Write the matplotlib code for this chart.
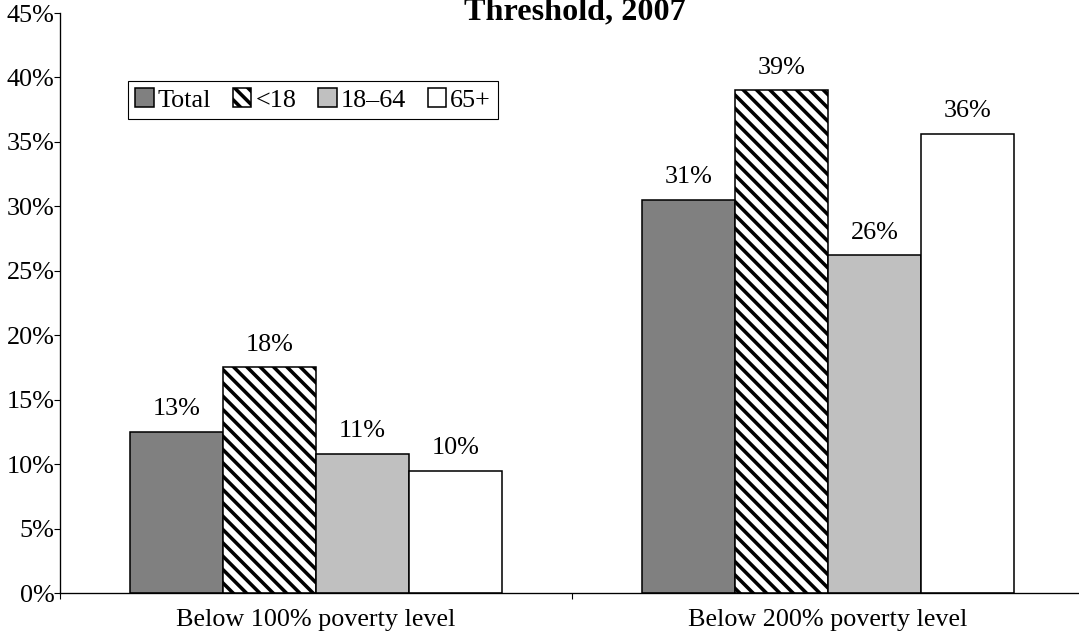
import math

import matplotlib
matplotlib.use("Agg")
import matplotlib.pyplot as plt
import numpy as np

categories = ["Below 100% poverty level", "Below 200% poverty level"]
groups = ["Total", "<18", "18\u201364", "65+"]
values = {
    "Total": [12.5, 30.5],
    "<18": [17.5, 39.0],
    "18\u201364": [10.8, 26.2],
    "65+": [9.5, 35.6],
}
y_ticks = [0, 5, 10, 15, 20, 25, 30, 35, 40, 45]

fills = {"Total": "#808080", "<18": "white", "18\u201364": "#c0c0c0", "65+": "white"}
hatches = {"Total": None, "<18": "\\\\", "18\u201364": None, "65+": None}

plt.rcParams["font.family"] = ["Liberation Serif", "DejaVu Serif"]
plt.rcParams["hatch.linewidth"] = 3.2
plt.rcParams["hatch.color"] = "black"

W, H, DPI = 1079, 640, 80
fs = 23.5
fig = plt.figure(figsize=(W / DPI, H / DPI), dpi=DPI)
ax = fig.add_axes([60 / W, (H - 593) / H, (1084 - 60) / W, (593 - 13) / H])

x = np.arange(len(categories))
bw = 0.182
for i, g in enumerate(groups):
    pos = x + (i - 1.5) * bw
    bars = ax.bar(pos, values[g], bw, color=fills[g], edgecolor="black",
                  linewidth=1.4, hatch=hatches[g], label=g, zorder=2)
    for xp, v in zip(pos, values[g]):
        lbl = f"{math.floor(v + 0.5)}%"
        ax.annotate(lbl, (xp, v), xytext=(0, 15), textcoords="offset points",
                    ha="center", va="baseline", fontsize=fs)

ax.set_xlim(-0.5, 1.5)
ax.set_ylim(0, 45)
ax.set_yticks(y_ticks)
ax.set_yticklabels([f"{t}%" for t in y_ticks])
ax.set_xticks(x)
ax.set_xticklabels(categories)
ax.set_xticks([-0.5, 0.5, 1.5], minor=True)
ax.tick_params(axis="x", which="major", length=0, pad=14, labelsize=fs)
ax.tick_params(axis="x", which="minor", length=5, width=1, direction="out")
ax.tick_params(axis="y", length=5, width=1, direction="out", pad=0, labelsize=fs)
for s in ["top", "right"]:
    ax.spines[s].set_visible(False)
for s in ["left", "bottom"]:
    ax.spines[s].set_linewidth(1.2)

leg = ax.legend(ncol=4, loc="upper left",
                bbox_to_anchor=(128 / W, 1 - 81 / H), bbox_transform=fig.transFigure,
                fontsize=fs, frameon=True, fancybox=False, framealpha=1,
                edgecolor="black", handlelength=0.7, handleheight=0.7,
                handletextpad=0.15, columnspacing=0.85, borderpad=0.28,
                borderaxespad=0)
leg.get_frame().set_linewidth(1.0)

fig.text(575 / W, 1 - 19 / H, "Threshold, 2007", ha="center", va="baseline",
         fontsize=29, fontweight="bold")

fig.savefig("out.png", dpi=DPI)
